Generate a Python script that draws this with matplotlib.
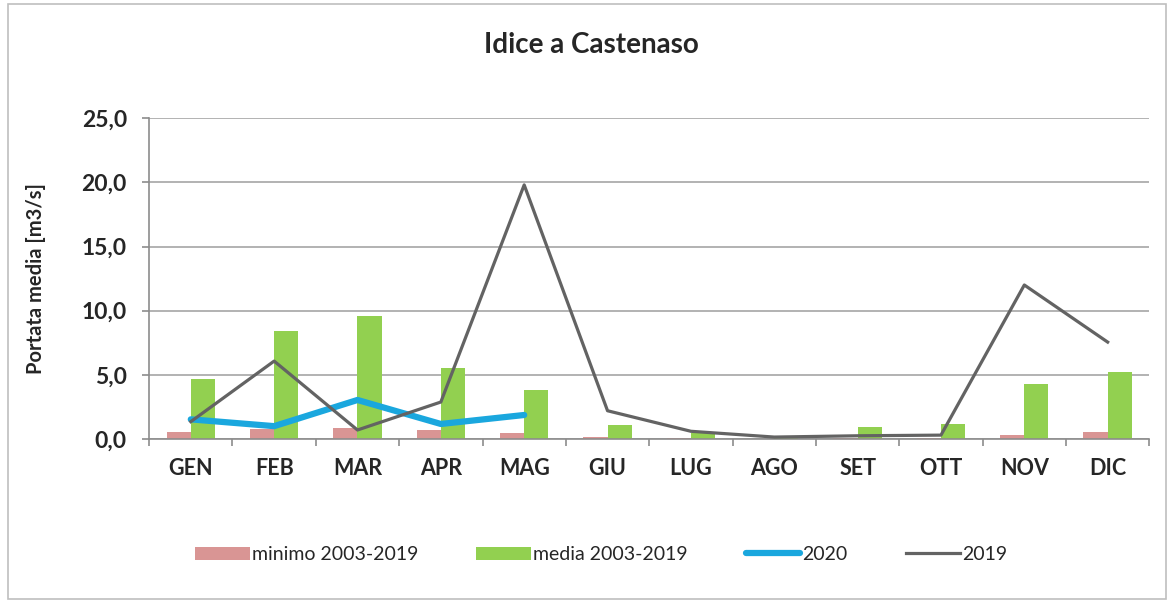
import matplotlib
matplotlib.use("Agg")
import matplotlib.pyplot as plt
from matplotlib.patches import Rectangle
from matplotlib.ticker import FuncFormatter, FixedLocator
import numpy as np

months = ["GEN", "FEB", "MAR", "APR", "MAG", "GIU", "LUG", "AGO", "SET", "OTT", "NOV", "DIC"]
minimo = [0.57, 0.78, 0.83, 0.70, 0.44, 0.12, 0.05, 0.03, 0.06, 0.06, 0.30, 0.57]
media = [4.7, 8.43, 9.58, 5.55, 3.82, 1.1, 0.5, 0.1, 0.95, 1.2, 4.25, 5.2]
q2020 = [1.53, 1.0, 3.04, 1.17, 1.87]
q2019 = [1.35, 6.07, 0.7, 2.88, 19.8, 2.2, 0.6, 0.15, 0.25, 0.3, 12.0, 7.55]

plt.rcParams["font.family"] = ["Lato", "DejaVu Sans"]

fig = plt.figure(figsize=(11.74, 6.03), dpi=100)
fig.patches.append(Rectangle((0.007, 0.006), 0.986, 0.988, transform=fig.transFigure,
                             fill=False, edgecolor="#BFBFBF", linewidth=1.2))

ax = fig.add_axes([0.127, 0.272, 0.852, 0.532])
x = np.arange(len(months))
w = 0.29
h_min = ax.bar(x - w / 2, minimo, width=w, color="#D99594", label="minimo 2003-2019", zorder=2)
h_med = ax.bar(x + w / 2, media, width=w, color="#92D050", label="media 2003-2019", zorder=2)
h_20, = ax.plot(x[:len(q2020)], q2020, color="#1AA7DE", linewidth=4.5, label="2020", zorder=3,
                solid_capstyle="round")
h_19, = ax.plot(x, q2019, color="#636363", linewidth=2.3, label="2019", zorder=4)

ax.set_xlim(-0.5, len(months) - 0.5)
ax.set_ylim(0, 25)
ax.set_yticks(np.arange(0, 26, 5))
ax.yaxis.set_major_formatter(FuncFormatter(lambda v, p: f"{v:.1f}".replace(".", ",")))
ax.yaxis.grid(True, color="#A6A6A6", linewidth=1.2, zorder=0)
ax.set_axisbelow(True)

ax.set_xticks(x)
ax.set_xticklabels(months)
ax.xaxis.set_minor_locator(FixedLocator(np.arange(-0.5, len(months), 1.0)))
ax.tick_params(axis="x", which="major", length=0, pad=14, labelsize=15.5, labelcolor="#262626")
ax.tick_params(axis="x", which="minor", length=5, color="#8C8C8C", width=1.2)
ax.tick_params(axis="y", length=5, color="#8C8C8C", width=1.2, pad=11, labelsize=16.5,
               labelcolor="#262626")
for lab in ax.get_xticklabels() + ax.get_yticklabels():
    lab.set_fontweight("bold")

for s in ["top", "right"]:
    ax.spines[s].set_visible(False)
for s in ["left", "bottom"]:
    ax.spines[s].set_color("#8C8C8C")
    ax.spines[s].set_linewidth(1.2)

ax.set_ylabel("Portata media [m3/s]", fontsize=14.5, fontweight="bold", color="#262626")
ax.yaxis.set_label_coords(-0.103, 0.5)
fig.text(0.504, 0.925, "Idice a Castenaso", ha="center", va="center", fontsize=20,
         fontweight="bold", color="#262626")

fig.legend(handles=[h_min, h_med, h_20, h_19], loc="center", bbox_to_anchor=(0.512, 0.08),
           ncol=4, frameon=False, fontsize=14, handlelength=2.8, handleheight=0.7,
           columnspacing=3.0, handletextpad=0.1, labelcolor="#262626")

fig.savefig("out.png", dpi=100)
